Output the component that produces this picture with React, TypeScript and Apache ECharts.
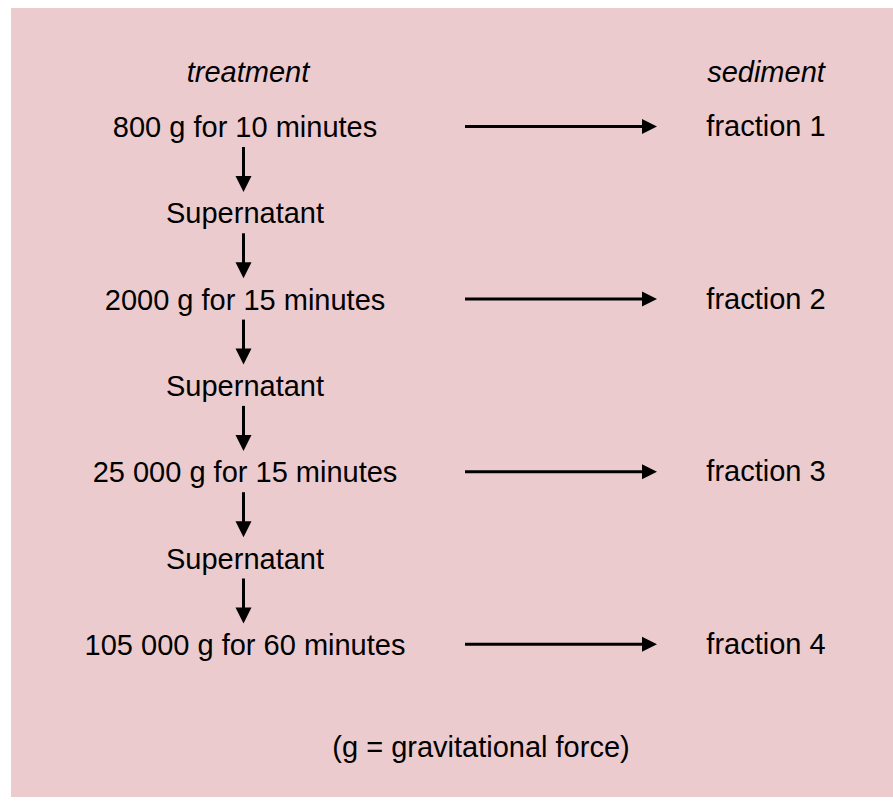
import React, { useEffect, useRef } from "react";
import * as echarts from "echarts";

const headers = ["treatment", "sediment"];
const treatments = [
  "800 g for 10 minutes",
  "2000 g for 15 minutes",
  "25 000 g for 15 minutes",
  "105 000 g for 60 minutes",
];
const intermediate = "Supernatant";
const fractions = ["fraction 1", "fraction 2", "fraction 3", "fraction 4"];
const footnote = "(g = gravitational force)";

const W = 893;
const H = 808;
const FONT = "'Liberation Sans', Arial, sans-serif";
const FS = 29;
const LEFT_X = 245;
const RIGHT_X = 766;
const ARROW_X = 243.5;
const FIRST_ROW_Y = 127;
const ROW_STEP = 86.3;

export default function App() {
  const ref = useRef<HTMLDivElement>(null);
  useEffect(() => {
    if (!ref.current) return;
    const chart = echarts.init(ref.current, null, { renderer: "svg" });
    const els: any[] = [];
    els.push({
      type: "rect",
      shape: { x: 11, y: 8, width: W - 11, height: 789 },
      style: { fill: "#ECCBCF" },
      z: 0,
    });
    const txt = (x: number, y: number, s: string, italic = false) => ({
      type: "text",
      x,
      y,
      style: {
        text: s,
        fill: "#000",
        font: `${italic ? "italic " : ""}${FS}px ${FONT}`,
        align: "center",
        verticalAlign: "middle",
      },
      z: 2,
    });
    els.push(txt(LEFT_X + 3, 72, headers[0], true));
    els.push(txt(RIGHT_X, 72, headers[1], true));

    const rows: string[] = [];
    treatments.forEach((t, i) => {
      rows.push(t);
      if (i < treatments.length - 1) rows.push(intermediate);
    });
    rows.forEach((label, r) => {
      const y = FIRST_ROW_Y + r * ROW_STEP;
      els.push(txt(LEFT_X, y, label));
      if (r < rows.length - 1) {
        els.push({
          type: "line",
          shape: { x1: ARROW_X, y1: y + 20, x2: ARROW_X, y2: y + 50 },
          style: { stroke: "#000", lineWidth: 3 },
          z: 2,
        });
        els.push({
          type: "polygon",
          shape: { points: [[ARROW_X - 8, y + 49], [ARROW_X + 8, y + 49], [ARROW_X, y + 65]] },
          style: { fill: "#000" },
          z: 2,
        });
      }
      if (r % 2 === 0) {
        const fi = r / 2;
        const ay = y - 0.5;
        els.push(txt(RIGHT_X, y - 1, fractions[fi]));
        els.push({
          type: "line",
          shape: { x1: 465, y1: ay, x2: 645, y2: ay },
          style: { stroke: "#000", lineWidth: 3 },
          z: 2,
        });
        els.push({
          type: "polygon",
          shape: { points: [[642, ay - 7.5], [642, ay + 7.5], [657, ay]] },
          style: { fill: "#000" },
          z: 2,
        });
      }
    });
    els.push(txt(481, 747, footnote));

    chart.setOption({
      animation: false,
      backgroundColor: "#ffffff",
      graphic: { elements: els },
    });
    return () => chart.dispose();
  }, []);
  return (
    <div
      ref={ref}
      style={{ position: "fixed", left: 0, top: 0, width: W, height: H }}
    />
  );
}
